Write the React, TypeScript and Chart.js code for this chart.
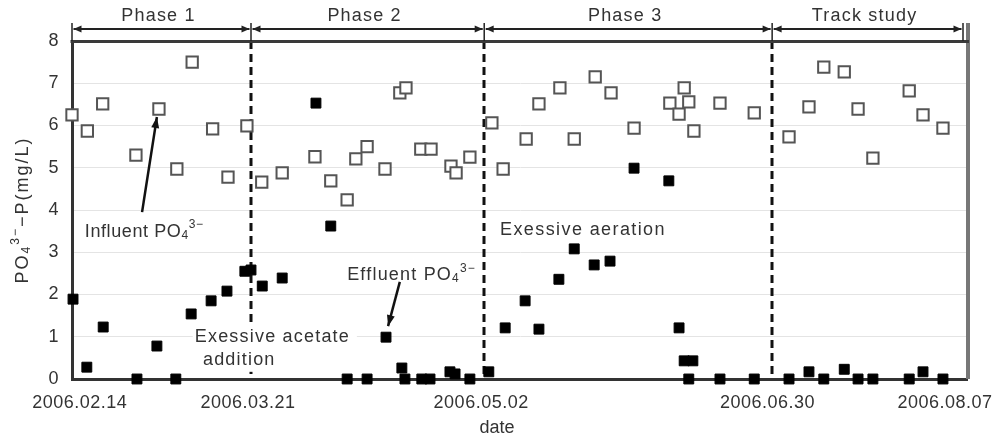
import React, { useEffect, useRef } from "react";
import { Chart, registerables } from "chart.js";
Chart.register(...registerables);

// x values: days since 2006.02.14
const influentDay = [0, 3, 6, 12.5, 17, 20.5, 23.5, 27.5, 30.5, 34.2, 37.1, 41.1, 47.5, 50.6, 53.8, 55.5, 57.7, 61.2, 64.1, 65.3, 68.2, 70.2, 74.1, 75.1, 77.8, 82.1, 84.3, 88.8, 91.3, 95.4, 98.2, 102.3, 105.4, 109.9, 116.9, 118.7, 119.7, 120.6, 121.6, 126.7, 133.4, 140.2, 144.1, 147.0, 151.0, 153.7, 156.6, 163.7, 166.4, 170.3];
const influentP = [6.25, 5.87, 6.51, 5.30, 6.39, 4.97, 7.50, 5.92, 4.78, 5.99, 4.66, 4.88, 5.26, 4.69, 4.24, 5.21, 5.50, 4.97, 6.77, 6.89, 5.44, 5.44, 5.04, 4.88, 5.25, 6.06, 4.97, 5.68, 6.51, 6.89, 5.68, 7.15, 6.77, 5.94, 6.53, 6.27, 6.89, 6.56, 5.87, 6.53, 6.30, 5.73, 6.44, 7.38, 7.27, 6.39, 5.23, 6.82, 6.25, 5.94];

const effluentDay = [0.2, 2.9, 6.1, 12.7, 16.6, 20.3, 23.3, 27.2, 30.3, 33.8, 35.0, 37.2, 41.1, 47.7, 50.6, 53.8, 57.7, 61.4, 64.5, 65.1, 68.4, 70.0, 73.9, 74.9, 77.8, 81.5, 84.7, 88.6, 91.3, 95.2, 98.2, 102.1, 105.2, 109.9, 116.7, 118.7, 119.7, 121.4, 120.6, 126.7, 133.4, 140.2, 144.1, 147.0, 151.0, 153.7, 156.6, 163.7, 166.4, 170.3];
const effluentP = [1.89, 0.28, 1.23, 0, 0.78, 0, 1.54, 1.85, 2.08, 2.55, 2.58, 2.20, 2.39, 6.53, 3.62, 0, 0, 0.99, 0.26, 0, 0, 0, 0.17, 0.12, 0, 0.17, 1.21, 1.85, 1.18, 2.36, 3.08, 2.70, 2.79, 4.99, 4.69, 1.21, 0.43, 0.43, 0, 0, 0, 0, 0.17, 0, 0.23, 0, 0, 0, 0.17, 0];

const xTickValues = [1.5, 34.4, 80, 136, 170.7];
const xTickLabels = ["2006.02.14", "2006.03.21", "2006.05.02", "2006.06.30", "2006.08.07"];
const phaseBounds = [0, 35, 80.6, 136.9, 175];
const phaseNames = ["Phase 1", "Phase 2", "Phase 3", "Track study"];

const FONT = '"Liberation Sans", Arial, Helvetica, sans-serif';
const TEXT = "#333333";

type Part = { t: string; m?: "sub" | "sup" };

function drawRich(ctx: CanvasRenderingContext2D, parts: Part[], x: number, y: number, size: number, align: "left" | "center", spacing: number) {
  const small = Math.round(size * 0.65);
  (ctx as any).letterSpacing = spacing + "px";
  let w = 0;
  const widths: number[] = [];
  for (const p of parts) {
    ctx.font = `${p.m ? small : size}px ${FONT}`;
    const ww = ctx.measureText(p.t).width;
    widths.push(ww);
    w += ww;
  }
  let cx = align === "center" ? x - w / 2 : x;
  ctx.textAlign = "left";
  ctx.textBaseline = "middle";
  parts.forEach((p, i) => {
    ctx.font = `${p.m ? small : size}px ${FONT}`;
    const dy = p.m === "sub" ? size * 0.22 : p.m === "sup" ? -size * 0.38 : 0;
    ctx.fillText(p.t, cx, y + dy);
    cx += widths[i];
  });
  return w;
}

function arrowHead(ctx: CanvasRenderingContext2D, x1: number, y1: number, x2: number, y2: number, len: number, half: number) {
  const a = Math.atan2(y2 - y1, x2 - x1);
  ctx.beginPath();
  ctx.moveTo(x2, y2);
  ctx.lineTo(x2 - len * Math.cos(a) + half * Math.sin(a), y2 - len * Math.sin(a) - half * Math.cos(a));
  ctx.lineTo(x2 - len * Math.cos(a) - half * Math.sin(a), y2 - len * Math.sin(a) + half * Math.cos(a));
  ctx.closePath();
  ctx.fill();
}

function drawArrow(ctx: CanvasRenderingContext2D, x1: number, y1: number, x2: number, y2: number) {
  ctx.beginPath();
  ctx.moveTo(x1, y1);
  ctx.lineTo(x2, y2);
  ctx.stroke();
  arrowHead(ctx, x1, y1, x2, y2, 11, 4);
}

const overlay = {
  id: "overlay",
  beforeDraw(chart: any) {
    (chart.ctx as any).letterSpacing = "0.5px";
  },
  beforeDatasetsDraw(chart: any) {
    const ctx: CanvasRenderingContext2D = chart.ctx;
    const { top, bottom, left, right } = chart.chartArea;
    const xs = chart.scales.x;
    ctx.save();
    // dashed phase separators
    ctx.strokeStyle = "#111";
    ctx.lineWidth = 3;
    ctx.setLineDash([8, 5]);
    for (let i = 1; i < phaseBounds.length - 1; i++) {
      const px = Math.round(xs.getPixelForValue(phaseBounds[i]));
      ctx.beginPath();
      ctx.moveTo(px, top);
      ctx.lineTo(px, bottom);
      ctx.stroke();
    }
    ctx.setLineDash([]);
    // right border
    ctx.strokeStyle = "#777";
    ctx.lineWidth = 4;
    ctx.beginPath();
    ctx.moveTo(right + 1, top - 18);
    ctx.lineTo(right + 1, bottom);
    ctx.stroke();
    // top border
    ctx.strokeStyle = "#3a3a3a";
    ctx.lineWidth = 3;
    ctx.beginPath();
    ctx.moveTo(left - 1.5, top + 0.5);
    ctx.lineTo(right + 2, top + 0.5);
    ctx.stroke();
    // phase arrows
    const ay = top - 12;
    ctx.strokeStyle = "#222";
    ctx.fillStyle = "#222";
    ctx.lineWidth = 2;
    for (let i = 0; i < phaseBounds.length; i++) {
      const px = xs.getPixelForValue(phaseBounds[i]) + (i === phaseBounds.length - 1 ? -4 : 0);
      ctx.lineWidth = 1.5;
      ctx.beginPath();
      ctx.moveTo(px, top - 18);
      ctx.lineTo(px, top);
      ctx.stroke();
    }
    for (let i = 0; i < phaseNames.length; i++) {
      const a = xs.getPixelForValue(phaseBounds[i]) + 1.5;
      const b = xs.getPixelForValue(phaseBounds[i + 1]) - (i === phaseNames.length - 1 ? 5.5 : 1.5);
      ctx.lineWidth = 2;
      ctx.beginPath();
      ctx.moveTo(a, ay);
      ctx.lineTo(b, ay);
      ctx.stroke();
      arrowHead(ctx, b, ay, a, ay, 8, 3.5);
      arrowHead(ctx, a, ay, b, ay, 8, 3.5);
      ctx.fillStyle = TEXT;
      drawRich(ctx, [{ t: phaseNames[i] }], (a + b) / 2 - 3, top - 25, 18, "center", 1.2);
      ctx.fillStyle = "#222";
    }
    ctx.restore();
  },
  afterDatasetsDraw(chart: any) {
    const ctx: CanvasRenderingContext2D = chart.ctx;
    const { top, bottom } = chart.chartArea;
    const xs = chart.scales.x;
    const ys = chart.scales.y;
    const X = (v: number) => xs.getPixelForValue(v);
    const Y = (v: number) => ys.getPixelForValue(v);
    ctx.save();
    // acetate annotation with white box
    ctx.fillStyle = "#fff";
    ctx.fillRect(X(23.6), Y(1.25), X(55.7) - X(23.6), Y(0.17) - Y(1.25));
    ctx.fillStyle = TEXT;
    drawRich(ctx, [{ t: "Exessive acetate" }], X(24.0), Y(0.99), 18, "left", 1.2);
    drawRich(ctx, [{ t: "addition" }], X(25.6), Y(0.44), 18, "left", 1.2);
    drawRich(ctx, [{ t: "Exessive aeration" }], X(83.7), Y(3.53), 18, "left", 1.4);
    drawRich(ctx, [{ t: "Influent PO" }, { t: "4", m: "sub" }, { t: "3−", m: "sup" }], X(2.5), Y(3.48), 18, "left", 0.6);
    drawRich(ctx, [{ t: "Effluent PO" }, { t: "4", m: "sub" }, { t: "3−", m: "sup" }], X(53.8), Y(2.46), 18, "left", 1.2);
    // arrows
    ctx.strokeStyle = "#111";
    ctx.fillStyle = "#111";
    ctx.lineWidth = 2.5;
    drawArrow(ctx, X(13.7), Y(3.95), X(16.6), Y(6.2));
    drawArrow(ctx, X(64.1), Y(2.3), X(61.8), Y(1.25));
    // axis titles
    ctx.fillStyle = TEXT;
    ctx.save();
    ctx.translate(23, (top + bottom) / 2);
    ctx.rotate(-Math.PI / 2);
    drawRich(ctx, [{ t: "PO" }, { t: "4", m: "sub" }, { t: "3−", m: "sup" }, { t: "−P(mg/L)" }], 0, 0, 18, "center", 2);
    ctx.restore();
    drawRich(ctx, [{ t: "date" }], 497, 428, 18, "center", 0);
    ctx.restore();
  },
};

export default function App() {
  const ref = useRef<HTMLCanvasElement>(null);
  useEffect(() => {
    const canvas = ref.current!;
    const chart = new Chart(canvas, {
      type: "scatter",
      data: {
        datasets: [
          {
            label: "Influent PO4",
            data: influentDay.map((x, i) => ({ x, y: influentP[i] })),
            pointStyle: "rect",
            pointRadius: 8,
            pointBackgroundColor: "#ffffff",
            pointBorderColor: "#555555",
            pointBorderWidth: 2,
            clip: false,
          } as any,
          {
            label: "Effluent PO4",
            data: effluentDay.map((x, i) => ({ x, y: effluentP[i] })),
            pointStyle: "rect",
            pointRadius: 7,
            pointBackgroundColor: "#000000",
            pointBorderColor: "#000000",
            pointBorderWidth: 1,
            clip: false,
          } as any,
        ],
      },
      options: {
        animation: false,
        responsive: true,
        maintainAspectRatio: false,
        layout: { padding: { top: 41, right: 29, left: 0, bottom: 0 } },
        plugins: { legend: { display: false }, tooltip: { enabled: false } },
        scales: {
          x: {
            type: "linear",
            min: 0,
            max: 175,
            grid: { display: false, drawTicks: false },
            border: { display: true, color: "#333", width: 3 },
            afterBuildTicks: (s: any) => {
              s.ticks = xTickValues.map((v) => ({ value: v }));
            },
            afterFit: (s: any) => {
              s.height = 60;
              s.paddingLeft = 0;
              s.paddingRight = 0;
            },
            ticks: {
              autoSkip: false,
              maxRotation: 0,
              padding: 13,
              color: TEXT,
              font: { family: FONT, size: 18 },
              callback: (_v: any, i: number) => xTickLabels[i],
            },
          },
          y: {
            min: 0,
            max: 8,
            grid: { color: "#e4e4e4", drawTicks: false },
            border: { display: true, color: "#333", width: 3 },
            afterFit: (s: any) => {
              s.width = 72;
              s.paddingTop = 0;
              s.paddingBottom = 0;
            },
            ticks: { stepSize: 1, padding: 13, color: TEXT, font: { family: FONT, size: 18 } },
          },
        },
      } as any,
      plugins: [overlay],
    });
    return () => chart.destroy();
  }, []);
  return (
    <div style={{ position: "absolute", left: 0, top: 0, width: 996, height: 439, background: "#fff" }}>
      <canvas ref={ref} />
    </div>
  );
}
